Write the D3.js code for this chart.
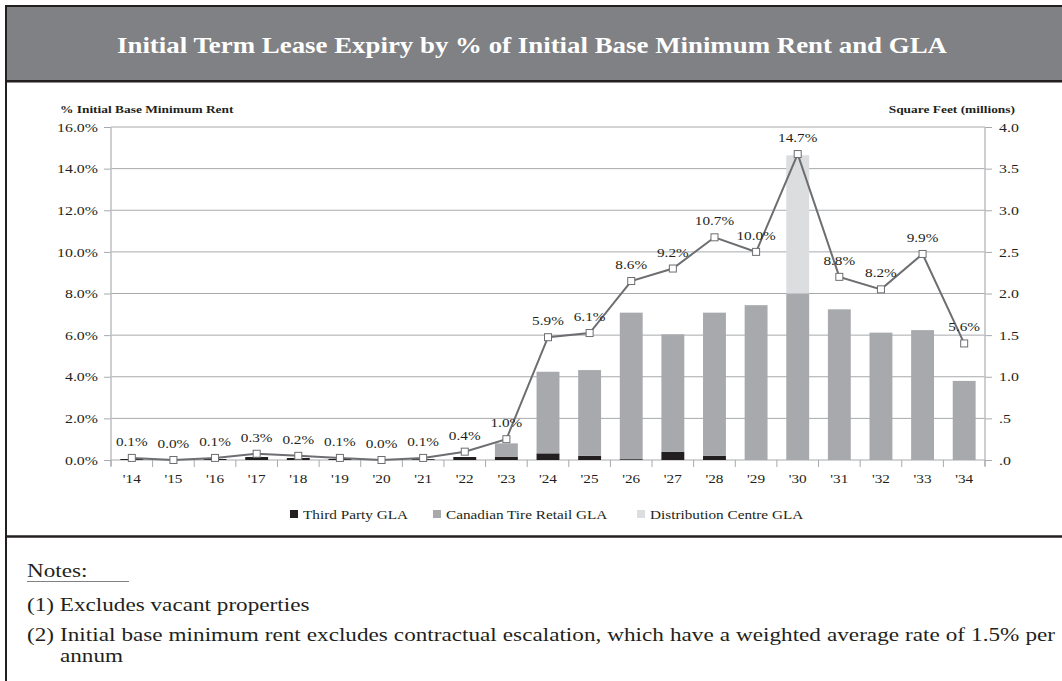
<!DOCTYPE html>
<html>
<head>
<meta charset="utf-8">
<script src="https://cdn.jsdelivr.net/npm/d3@7"></script>
<style>
  body { margin: 0; background: #fff; }
  svg { display: block; }
  text { font-family: 'Liberation Serif', 'Times New Roman', serif; fill: #231f20; }
</style>
</head>
<body>
<script>
var years = ["'14", "'15", "'16", "'17", "'18", "'19", "'20", "'21", "'22", "'23", "'24",
  "'25", "'26", "'27", "'28", "'29", "'30", "'31", "'32", "'33", "'34"];
// % of initial base minimum rent (line)
var rentPct = [0.1, 0.0, 0.1, 0.3, 0.2, 0.1, 0.0, 0.1, 0.4, 1.0, 5.9,
  6.1, 8.6, 9.2, 10.7, 10.0, 14.7, 8.8, 8.2, 9.9, 5.6];
// GLA in millions of square feet (stacked bars)
var thirdParty = [0.012, 0, 0.012, 0.036, 0.024, 0.012, 0, 0.01, 0.036, 0.04, 0.08,
  0.05, 0.01, 0.10, 0.05, 0, 0, 0, 0, 0, 0];
var canadianTire = [0, 0, 0, 0, 0, 0, 0, 0, 0, 0.16, 0.98,
  1.03, 1.76, 1.41, 1.72, 1.86, 2.0, 1.81, 1.53, 1.56, 0.95];
var distCentre = [0, 0, 0, 0, 0, 0, 0, 0, 0, 0, 0,
  0, 0, 0, 0, 0, 1.66, 0, 0, 0, 0];

var leftTicks = [0, 2, 4, 6, 8, 10, 12, 14, 16];
var rightTicks = [0, 0.5, 1, 1.5, 2, 2.5, 3, 3.5, 4];
var rightTickLabels = ['.0', '.5', '1.0', '1.5', '2.0', '2.5', '3.0', '3.5', '4.0'];
var seriesNames = ['Third Party GLA', 'Canadian Tire Retail GLA', 'Distribution Centre GLA'];
var seriesColors = ['#231f20', '#a7a9ac', '#dcdddf'];

var w = 1062;
var h = 681;
var dark = '#231f20';
var lineColor = '#6d6e71';
var sx = 1.22; // the source type is set a bit wider than Liberation Serif

var svg = d3.select('body').append('svg').attr('width', w).attr('height', h);

// widen text horizontally, keeping its anchor point
function stretch(sel, k) {
  k = k || sx;
  sel.each(function () {
    var t = d3.select(this);
    var xx = +t.attr('x') || 0;
    t.attr('x', xx / k).attr('transform', 'scale(' + k + ',1)');
  });
}

// frame + header
svg.append('rect').attr('x', 7).attr('y', 7).attr('width', w - 7).attr('height', 73).attr('fill', '#808184');
svg.append('line').attr('x1', 5).attr('x2', w).attr('y1', 6).attr('y2', 6).attr('stroke', dark).attr('stroke-width', 2);
svg.append('line').attr('x1', 6).attr('x2', 6).attr('y1', 5).attr('y2', h).attr('stroke', dark).attr('stroke-width', 2);
svg.append('line').attr('x1', 5).attr('x2', w).attr('y1', 81.3).attr('y2', 81.3).attr('stroke', dark).attr('stroke-width', 2.5);
svg.append('line').attr('x1', 5).attr('x2', w).attr('y1', 536.5).attr('y2', 536.5).attr('stroke', dark).attr('stroke-width', 2.5);

svg.append('text')
  .text('Initial Term Lease Expiry by % of Initial Base Minimum Rent and GLA')
  .attr('x', 532).attr('y', 53)
  .attr('text-anchor', 'middle')
  .attr('font-size', '24px')
  .attr('font-weight', 'bold')
  .style('fill', '#fff')
  .call(stretch, 1.12);

// axis titles
svg.append('text').text('% Initial Base Minimum Rent')
  .attr('x', 60).attr('y', 113).attr('font-size', '11px').attr('font-weight', 'bold')
  .call(stretch);
svg.append('text').text('Square Feet (millions)')
  .attr('x', 1015).attr('y', 113).attr('text-anchor', 'end').attr('font-size', '11px').attr('font-weight', 'bold')
  .call(stretch);

// scales
var mLeft = 111, mRight = 985, mTop = 127, mBottom = 460;
var x = d3.scaleBand().domain(years).range([mLeft, mRight]).paddingInner(0.45).paddingOuter(0.225);
var yPct = d3.scaleLinear().domain([0, 16]).range([mBottom, mTop]);
var ySqft = d3.scaleLinear().domain([0, 4]).range([mBottom, mTop]);
var step = x.step();

// gridlines
svg.selectAll('.grid')
  .data(leftTicks)
  .enter()
  .append('line')
  .attr('class', 'grid')
  .attr('x1', mLeft).attr('x2', mRight)
  .attr('y1', function (d) { return yPct(d); })
  .attr('y2', function (d) { return yPct(d); })
  .attr('stroke', '#a7a9ac')
  .attr('stroke-width', 1);

// left axis
var leftAxis = d3.axisLeft(yPct).tickValues(leftTicks).tickSize(7).tickPadding(6)
  .tickFormat(function (d) { return d3.format('.1f')(d) + '%'; });
var gl = svg.append('g').attr('transform', 'translate(' + mLeft + ',0)').call(leftAxis);
gl.select('.domain').remove();
gl.selectAll('.tick line').attr('stroke', '#a7a9ac');
gl.selectAll('.tick text').attr('font-size', '13px').attr('font-family', null).style('fill', dark).call(stretch);

// right axis
var rightAxis = d3.axisRight(ySqft).tickValues(rightTicks).tickSize(7).tickPadding(7)
  .tickFormat(function (d, i) { return rightTickLabels[i]; });
var gr = svg.append('g').attr('transform', 'translate(' + mRight + ',0)').call(rightAxis);
gr.select('.domain').remove();
gr.selectAll('.tick line').attr('stroke', '#a7a9ac');
gr.selectAll('.tick text').attr('font-size', '13px').attr('font-family', null).style('fill', dark).call(stretch);

// vertical axis lines
[mLeft, mRight].forEach(function (xx) {
  svg.append('line').attr('x1', xx).attr('x2', xx).attr('y1', mTop).attr('y2', mBottom + 6)
    .attr('stroke', '#bcbec0').attr('stroke-width', 1.5);
});

// x axis ticks between categories + labels
svg.selectAll('.xtick')
  .data(d3.range(years.length + 1))
  .enter()
  .append('line')
  .attr('class', 'xtick')
  .attr('x1', function (i) { return mLeft + i * step; })
  .attr('x2', function (i) { return mLeft + i * step; })
  .attr('y1', mBottom).attr('y2', mBottom + 7)
  .attr('stroke', '#a7a9ac');

svg.selectAll('.xlabel')
  .data(years)
  .enter()
  .append('text')
  .attr('class', 'xlabel')
  .text(function (d) { return d; })
  .attr('x', function (d) { return x(d) + x.bandwidth() / 2; })
  .attr('y', 483)
  .attr('text-anchor', 'middle')
  .attr('font-size', '12.5px')
  .call(stretch);

// stacked bars
var rows = years.map(function (d, i) {
  return { year: d, tp: thirdParty[i], ct: canadianTire[i], dc: distCentre[i] };
});
var stack = d3.stack().keys(['tp', 'ct', 'dc'])(rows);

svg.selectAll('.layer')
  .data(stack)
  .enter()
  .append('g')
  .attr('class', 'layer')
  .attr('fill', function (d, i) { return seriesColors[i]; })
  .selectAll('rect')
  .data(function (d) { return d; })
  .enter()
  .append('rect')
  .attr('x', function (d) { return x(d.data.year); })
  .attr('width', x.bandwidth())
  .attr('y', function (d) { return ySqft(d[1]); })
  .attr('height', function (d) { return ySqft(d[0]) - ySqft(d[1]); });

// line
var line = d3.line()
  .x(function (d, i) { return x(years[i]) + x.bandwidth() / 2; })
  .y(function (d) { return yPct(d); });

svg.append('path')
  .datum(rentPct)
  .attr('d', line)
  .attr('fill', 'none')
  .attr('stroke', lineColor)
  .attr('stroke-width', 2);

svg.selectAll('.marker')
  .data(rentPct)
  .enter()
  .append('rect')
  .attr('class', 'marker')
  .attr('x', function (d, i) { return x(years[i]) + x.bandwidth() / 2 - 3.5; })
  .attr('y', function (d) { return yPct(d) - 3.5; })
  .attr('width', 7).attr('height', 7)
  .attr('fill', '#fff')
  .attr('stroke', lineColor)
  .attr('stroke-width', 1);

svg.selectAll('.value')
  .data(rentPct)
  .enter()
  .append('text')
  .attr('class', 'value')
  .text(function (d) { return d3.format('.1f')(d) + '%'; })
  .attr('x', function (d, i) { return x(years[i]) + x.bandwidth() / 2; })
  .attr('y', function (d) { return yPct(d) - 12; })
  .attr('text-anchor', 'middle')
  .attr('font-size', '12.5px')
  .call(stretch);

// legend
var legendX = [290, 433, 637];
var legend = svg.selectAll('.legend')
  .data(seriesNames)
  .enter()
  .append('g')
  .attr('class', 'legend')
  .attr('transform', function (d, i) { return 'translate(' + legendX[i] + ',514)'; });
legend.append('rect')
  .attr('x', 0).attr('y', -4).attr('width', 8).attr('height', 8)
  .attr('fill', function (d, i) { return seriesColors[i]; });
legend.append('text')
  .text(function (d) { return d; })
  .attr('x', 13).attr('y', 4.5)
  .attr('font-size', '12.5px')
  .call(stretch);

// notes
svg.append('text').text('Notes:').attr('x', 27).attr('y', 577).attr('font-size', '19px').call(stretch);
svg.append('line').attr('x1', 27).attr('x2', 129).attr('y1', 581.5).attr('y2', 581.5)
  .attr('stroke', '#808184').attr('stroke-width', 1);
svg.append('text').text('(1) Excludes vacant properties').attr('x', 27).attr('y', 611).attr('font-size', '19px').call(stretch);
var note2 = svg.append('text')
  .text('(2) Initial base minimum rent excludes contractual escalation, which have a weighted average rate of 1.5% per')
  .attr('x', 27).attr('y', 641).attr('font-size', '19px')
  .call(stretch);
// justified line running to the right edge
var natural = note2.node().getComputedTextLength();
var target = 1028 / sx;
if (natural < target) {
  note2.attr('word-spacing', (target - natural) / (note2.text().split(' ').length - 1));
} else {
  note2.attr('textLength', target).attr('lengthAdjust', 'spacingAndGlyphs');
}
svg.append('text').text('annum').attr('x', 60).attr('y', 662).attr('font-size', '19px').call(stretch);
</script>
</body>
</html>
